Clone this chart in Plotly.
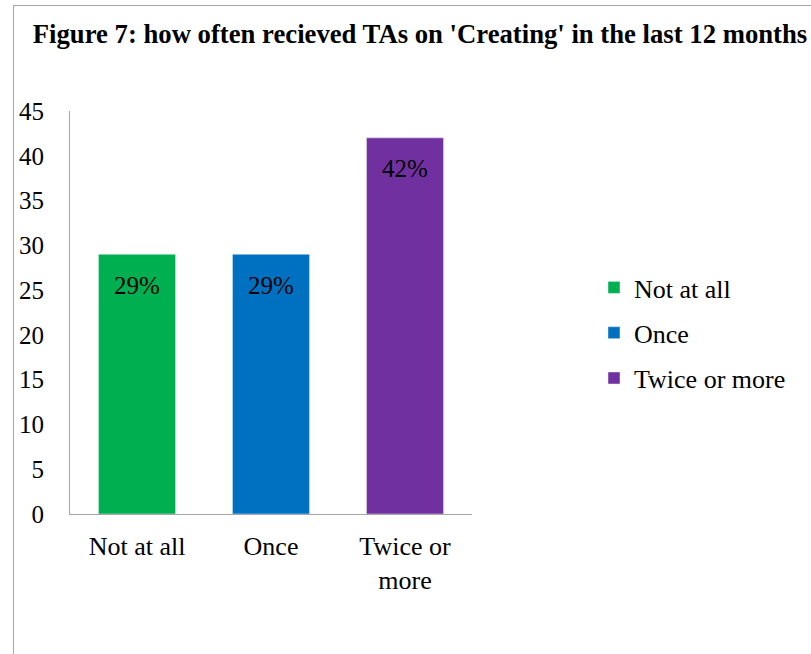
import plotly.graph_objects as go

categories = ["Not at all", "Once", "Twice or more"]
tick_labels = ["Not at all", "Once", "Twice or<br>more"]
values = [29, 29, 42]
labels = ["29%", "29%", "42%"]
colors = ["#00B050", "#0070C0", "#7030A0"]

FONT = "Liberation Serif, Times New Roman, serif"

W, H = 811, 654
L, R, T, B = 70, 339, 111, 140
pw = W - L - R
ph = H - T - B

def px(x):
    return (x - L) / pw

def py(y):
    return (H - B - y) / ph

fig = go.Figure()
for c, v, col in zip(categories, values, colors):
    fig.add_trace(go.Bar(
        x=[c], y=[v], name=c, marker_color=col, width=0.575,
        legendgroup=c, showlegend=True, hoverinfo="skip",
    ))

for c, v, lab in zip(categories, values, labels):
    fig.add_annotation(x=c, y=v, text=lab, showarrow=False, yshift=-31,
                       yanchor="middle", font=dict(family=FONT, size=25, color="black"))

# chart border (left & top)
fig.add_shape(type="line", xref="paper", yref="paper",
              x0=px(13.5), x1=px(13.5), y0=py(5), y1=py(H + 5),
              line=dict(color="#A6A6A6", width=1))
fig.add_shape(type="line", xref="paper", yref="paper",
              x0=px(13.5), x1=px(W + 5), y0=py(5.5), y1=py(5.5),
              line=dict(color="#A6A6A6", width=1))

fig.update_layout(
    width=W, height=H,
    margin=dict(l=L, r=R, t=T, b=B, pad=0),
    paper_bgcolor="white", plot_bgcolor="white",
    barmode="overlay",
    font=dict(family=FONT, size=26, color="black"),
    title=dict(text="<b>Figure 7: how often recieved TAs on 'Creating' in the last 12 months</b>",
               x=420 / W, xanchor="center", y=1 - 34 / H, yanchor="middle",
               xref="container", yref="container",
               font=dict(family=FONT, size=26.7, color="black")),
    xaxis=dict(type="category", categoryorder="array", categoryarray=categories,
               tickvals=categories, ticktext=tick_labels,
               showline=True, linecolor="#A6A6A6", linewidth=1,
               showgrid=False, ticks="", ticklabelstandoff=9,
               tickfont=dict(family=FONT, size=26), range=[-0.5, 2.5]),
    yaxis=dict(range=[0, 45], tickvals=list(range(0, 46, 5)),
               showline=True, linecolor="#A6A6A6", linewidth=1,
               showgrid=False, zeroline=False, ticks="", ticklabelstandoff=20,
               tickfont=dict(family=FONT, size=25)),
    legend=dict(x=px(594), xanchor="left", y=py(333), yanchor="middle",
                tracegroupgap=8.5, font=dict(family=FONT, size=26),
                bgcolor="rgba(0,0,0,0)"),
)

fig.write_html("out.html")
